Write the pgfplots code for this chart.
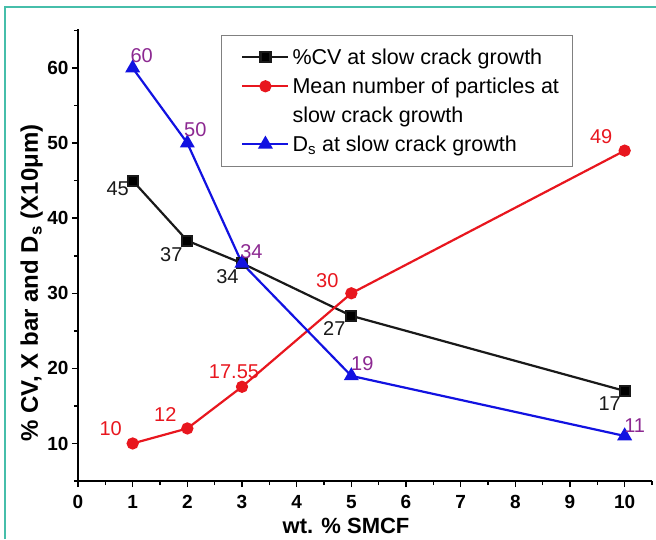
\documentclass[border=0pt]{standalone}
\usepackage{pgfplots}
\pgfplotsset{compat=1.18}
\usepackage{fontspec}
\setmainfont{Liberation Sans}
\definecolor{cvred}{RGB}{232,22,30}
\definecolor{cvblue}{RGB}{18,18,225}
\definecolor{cvpurple}{RGB}{140,40,145}
\definecolor{cvdark}{RGB}{25,25,25}
\definecolor{frameteal}{RGB}{70,190,170}
\begin{document}
\begin{tikzpicture}
\begin{axis}[
  at={(0pt,0pt)}, anchor=south west,
  width=574pt, height=452pt, scale only axis,
  xmin=0, xmax=10.5, ymin=5, ymax=65.2,
  axis lines*=left,
  axis line style={line width=1.8pt, black},
  xtick={0,1,...,10}, ytick={10,20,...,60},
  minor xtick={0.5,1.5,...,10.5}, minor ytick={5,15,...,65},
  tick align=outside,
  major tick length=6pt, minor tick length=4pt,
  every tick/.style={black, line width=1.5pt},
  /pgf/number format/assume math mode=true,
  tick label style={font=\fontsize{19}{21}\selectfont\bfseries},
  xticklabel style={yshift=-5pt},
  xlabel={wt. \% SMCF},
  ylabel={\% CV, X bar and D\textsubscript{s} (X10μm)},
  xlabel style={font=\fontsize{22}{24}\selectfont\bfseries, at={(rel axis cs:0.467,0)}, anchor=base, inner sep=0pt, yshift=-52pt},
  ylabel style={font=\fontsize{24}{28}\selectfont\bfseries, at={(rel axis cs:0,0.438)}, anchor=base, inner sep=0pt, yshift=40pt},
  clip=false,
  legend cell align=left,
  legend style={at={(0.249,0.987)}, anchor=north west, draw=gray, line width=0.8pt,
    font=\fontsize{21.5}{24}\selectfont, inner xsep=10pt, inner ysep=9pt, row sep=3pt,
    nodes={text height=17.5pt, text depth=2.5pt, inner ysep=3pt, inner xsep=3pt}},
  legend image code/.code={\path (0pt,0pt); \draw[mark repeat=2,mark phase=2,#1] plot coordinates {(10pt,0pt)(33pt,0pt)(56pt,0pt)};},
  nodes near coords,
  point meta=explicit symbolic,
  visualization depends on={value \thisrow{dx}\as\dx},
  visualization depends on={value \thisrow{dy}\as\dy},
  nodes near coords style={anchor=center, inner sep=0pt, xshift=\dx pt, yshift=\dy pt, font=\fontsize{20}{22}\selectfont},
]
\addplot[cvdark, line width=2.2pt, mark=square*, mark size=5pt, mark options={solid, fill=black},
  nodes near coords style={text=cvdark}]
  table[x=x, y=y, meta=lbl]{
x y lbl dx dy
1 45 45 -15 -8
2 37 37 -16 -14
3 34 34 -14.5 -13
5 27 27 -17 -12.5
10 17 17 -15 -13
};
\addlegendentry{\%CV at slow crack growth}
\addplot[cvred, line width=2.2pt, mark=*, mark size=5pt, mark options={solid, fill=cvred},
  nodes near coords style={text=cvred}]
  table[x=x, y=y, meta=lbl]{
x y lbl dx dy
1 10 10 -22 15
2 12 12 -22 14
3 17.55 17.55 -8 15
5 30 30 -24 13
10 49 49 -23.5 14.5
};
\addlegendentry{Mean number of particles at}
\addlegendimage{empty legend}
\addlegendentry{slow crack growth}
\addplot[cvblue, line width=2.2pt, mark=triangle*, mark size=6.5pt, mark options={solid, fill=cvblue},
  nodes near coords style={text=cvpurple}]
  table[x=x, y=y, meta=lbl]{
x y lbl dx dy
1 60 60 9 12
2 50 50 8 13.5
3 34 34 9.5 12
5 19 19 11 12.5
10 11 11 10 10.5
};
\addlegendentry{D\textsubscript{s} at slow crack growth}
\end{axis}
\draw[frameteal, line width=1.2pt] (-73pt,-58pt) -- (-73pt,474pt) -- (578pt,474pt);
\pgfresetboundingbox
\path (-78pt,-58pt) rectangle (578pt,481pt);
\end{tikzpicture}
\end{document}
